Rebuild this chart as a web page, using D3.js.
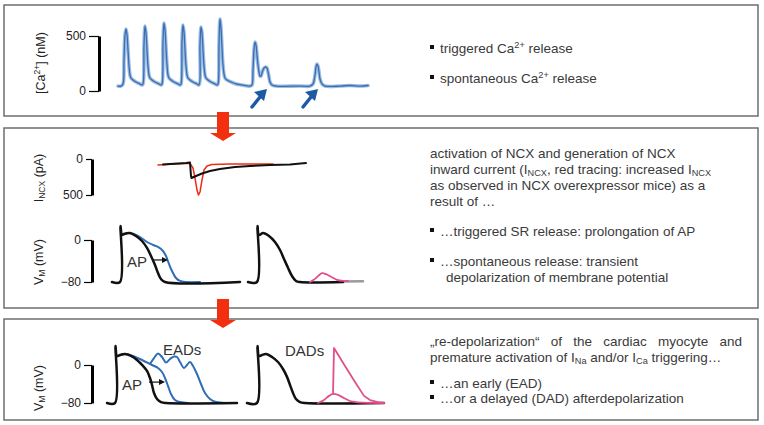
<!DOCTYPE html>
<html><head><meta charset="utf-8">
<script src="https://cdn.jsdelivr.net/npm/d3@7"></script>
<style>body{margin:0;background:#fff}svg{display:block;font-family:"Liberation Sans",Arial,sans-serif}</style>
</head><body><svg id="c" width="764" height="425"></svg>
<script>
// ---------- DATA ----------
// Panel 1: intracellular Ca2+ transient (time ms, [Ca2+] nM)
const caTime = [0,30,50,60,70,80,90,100,110,120,130,150,180,220,240,
 250,260,270,280,290,300,310,320,340,370,410,430,
 440,450,460,470,480,490,500,510,530,560,600,620,
 630,640,650,660,670,680,690,700,720,750,790,810,
 820,830,840,850,860,870,880,900,930,970,990,
 1000,1010,1020,1030,1040,1050,1060,1070,1090,1130,1180,1240,1320,
 1340,1350,1360,1370,1380,1390,1400,1410,1420,1430,1440,1450,1460,1480,1490,1500,1510,1520,1540,1580,1820,
 1920,1950,1970,1980,1990,2000,2010,2020,2040,2070,2220,2320,2420,2500];
const caConc = [45,45,64,282,509,564,509,373,227,145,118,100,82,64,55,
 64,418,591,527,373,227,145,118,100,82,64,55,
 64,445,618,555,391,236,145,118,100,82,64,55,
 64,445,600,536,373,227,145,118,100,82,64,55,
 418,582,527,373,227,145,118,100,82,64,55,
 64,418,655,573,391,236,155,118,100,82,64,55,45,
 55,191,373,445,418,327,236,173,136,136,164,191,209,218,209,173,127,82,55,45,45,
 45,64,145,218,245,227,173,109,64,45,45,50,45,50];
const caTicks = [0, 500];
const caEventTimes = [1490, 2000];   // triggered / spontaneous release markers

// Panel 2: NCX current (time ms, inward current pA)
const ncxTimeBlack = [10,24,40,56,64,66,67,76,88,104,124,154,184,224,264,296];
const ncxBlack     = [76,69,62,56,49,236,264,236,201,167,139,111,97,83,76,56];
const ncxTimeRed   = [0,14,34,54,64,70,74,78,81,84,88,92,98,108,144,194,230];
const ncxRed       = [83,76,69,62,62,125,264,431,500,458,292,153,97,76,69,69,69];
const ncxTicks = [0, 500];

// Panel 2: membrane potential (time ms, mV)
const ap2Time    = [0,16,17,20,24,36,48,60,70,78,86,92,98,106,256];
const ap2Control = [-80,-80,26.7,9.5,11.4,13.3,7.6,-1.9,-15.2,-30.5,-47.6,-62.9,-74.3,-80,-80];
const ap2ProlTime = [22,32,44,56,70,82,92,102,108,114,120,128,136,148,176];
const ap2Prol     = [10.5,13.3,11.4,5.7,-3.8,-9.5,-13.3,-21,-30.5,-45.7,-59,-72.4,-78,-80,-80];
const ap2bTime = [0,18,19,22,30,42,54,64,72,80,88,96,104,190];
const ap2b     = [-80,-80,26.7,9.5,13.3,7.6,-3.8,-19,-36,-53,-68.6,-78,-80,-80];
const ap2TailTime = [186,230];
const ap2Tail     = [-79,-78.5];
const dad2Time = [124,134,142,148,156,166,178,190,200];
const dad2     = [-80,-74,-67,-63,-65,-70,-76,-78,-78];
const vmTicks = [0, -80];

// Panel 3: membrane potential (time ms, mV)
const ap3Time    = [0,16,17,20,26,36,48,60,72,80,86,90,94,100,108,118,260];
const ap3Control = [-80,-80,40,19,21,23,19,10.5,-2,-12.6,-27.4,-42,-59,-71.6,-78,-80,-80];
const ap3ProlTime = [26,36,52,70,90,102,110,116,122,128,136,146,162];
const ap3Prol     = [21,23,19,10.5,0,-6.3,-14.7,-27.4,-44,-61,-73.7,-78,-80];
const eadTime = [86,94,102,110,118,126,134,140,146,154,160,166,172,180,188,196,206,218,238];
const ead     = [2.1,14.7,24.2,16.8,5.3,12.6,17.9,16.8,6.3,-6.3,0,6.3,-2.1,-19,-40,-59,-71.6,-78,-80];
const ap3bTime = [0,20,21,24,30,38,50,62,72,80,86,92,98,106,116,274];
const ap3b     = [-80,-80,40,19,21,23,16.8,6.3,-8.4,-25,-42,-59,-71.6,-78,-80,-80];
const dadSubTime = [142,154,164,172,182,194,206,218,274];
const dadSub     = [-80,-73.7,-65,-61,-63,-69.5,-75.8,-78,-80];
const dadTrigTime = [172,174,196,216,234,246,262,274];
const dadTrig     = [-61,35.8,-2.1,-35.8,-65,-73.7,-78,-80];

// ---------- DRAWING ----------
const svg = d3.select("#c");
const FONT = '"Liberation Sans", Arial, sans-serif';
const TXT = "#3a3a3a";
const PSIZE = 13.5;

// panel frames
[[4,5,754,111],[4,128,754,180],[4,319,754,101]].forEach(([x,y,w,h])=>{
  svg.append("rect").attr("x",x).attr("y",y).attr("width",w).attr("height",h)
    .attr("fill","#fff").attr("stroke","#6e6e6e").attr("stroke-width",1.5);
});

// red flow arrows
[[112,133,141],[299,320,328]].forEach(([y0,y1,y2])=>{
  const cx = 223;
  svg.append("polygon").attr("fill","#f2300f")
    .attr("points",[[cx-6,y0],[cx+6,y0],[cx+6,y1],[cx+13,y1],[cx,y2],[cx-13,y1],[cx-6,y1]].map(p=>p.join(",")).join(" "));
});

function yAxis(scale, x, ticks, tsize){
  const g = svg.append("g").attr("transform",`translate(${x},0)`)
    .call(d3.axisLeft(scale).tickValues(ticks).tickSize(tsize).tickSizeOuter(0).tickPadding(3));
  g.select(".domain").attr("stroke","#000").attr("stroke-width",3);
  g.selectAll(".tick line").attr("stroke","#000").attr("stroke-width",1.2);
  g.selectAll(".tick text").attr("font-size",12).attr("font-family",FONT).attr("fill","#222");
  return g;
}
function rotLabel(x, y, parts){
  const t = svg.append("text").attr("transform",`translate(${x},${y}) rotate(-90)`)
    .attr("text-anchor","middle").attr("font-size",12.5).attr("font-family",FONT).attr("fill","#222");
  addParts(t, parts, 12.5);
}
function addParts(t, parts, size){
  let pending = 0;
  parts.forEach(p=>{
    if (typeof p === "string"){
      const s = t.append("tspan").text(p);
      if (pending) { s.attr("dy", pending); pending = 0; }
    } else if (p.sub !== undefined){
      t.append("tspan").attr("dy", 2 + pending).attr("font-size", size*0.68).text(p.sub);
      pending = -2;
    } else {
      t.append("tspan").attr("dy", -5 + pending).attr("font-size", size*0.68).text(p.sup);
      pending = 5;
    }
  });
}
function para(x, y, parts, justifyTo){
  const t = svg.append("text").attr("x",x).attr("y",y).attr("font-size",PSIZE)
    .attr("font-family",FONT).attr("fill",TXT);
  addParts(t, parts, PSIZE);
  if (justifyTo){
    const len = t.node().getComputedTextLength();
    const str = parts.filter(p=>typeof p==="string").join("");
    const n = (str.match(/ /g)||[]).length;
    if (n) t.style("word-spacing", ((justifyTo - x - len)/n) + "px");
  }
  return t;
}
function bullet(x, y, parts){
  svg.append("rect").attr("x",x-2).attr("y",y-8).attr("width",4).attr("height",4).attr("fill","#111");
  para(x+8, y, parts);
}
function trace(xs, ys, xScale, yScale, color, width, curve){
  const line = d3.line().x(d=>xScale(d[0])).y(d=>yScale(d[1])).curve(curve || d3.curveCatmullRom.alpha(0.5));
  return svg.append("path").datum(d3.zip(xs, ys)).attr("d", line).attr("fill","none")
    .attr("stroke",color).attr("stroke-width",width).attr("stroke-linejoin","round").attr("stroke-linecap","round");
}

// ----- Panel 1 -----
const xCa = d3.scaleLinear().domain([0,2500]).range([118,368]);
const yCa = d3.scaleLinear().domain([0,500]).range([91,36]);
yAxis(yCa, 99, caTicks, 10);
rotLabel(45, 63, ["[Ca", {sup:"2+"}, "] (nM)"]);
trace(caTime, caConc, xCa, yCa, "#9cbde2", 3.6);
trace(caTime, caConc, xCa, yCa, "#3b6db3", 1.3);
caEventTimes.forEach(t=>{
  const tx = xCa(t), ty = yCa(0) - 2;
  svg.append("line").attr("x1",tx-7).attr("y1",ty+8).attr("x2",tx-15).attr("y2",ty+18)
    .attr("stroke","#1d5aa5").attr("stroke-width",3.5).attr("stroke-linecap","round");
  svg.append("polygon").attr("fill","#1d5aa5")
    .attr("points",[[tx,ty],[tx-13,ty+3],[tx-3,ty+12]].map(p=>p.join(",")).join(" "));
});
bullet(432, 53, ["triggered Ca", {sup:"2+"}, " release"]);
bullet(432, 83, ["spontaneous Ca", {sup:"2+"}, " release"]);

// ----- Panel 2 -----
const xNcx = d3.scaleLinear().domain([0,300]).range([158,308]);
const yNcx = d3.scaleLinear().domain([0,500]).range([159,195]);
yAxis(yNcx, 92, ncxTicks, 6);
rotLabel(43, 178, ["I", {sub:"NCX"}, " (pA)"]);
trace(ncxTimeRed, ncxRed, xNcx, yNcx, "#ee2a14", 1.5, d3.curveLinear);
trace(ncxTimeBlack, ncxBlack, xNcx, yNcx, "#111", 2, d3.curveLinear);

const yV2 = d3.scaleLinear().domain([-80,0]).range([282,240]);
const xAp2L = d3.scaleLinear().domain([0,256]).range([112,240]);
const xAp2R = d3.scaleLinear().domain([0,230]).range([248,363]);
yAxis(yV2, 92, vmTicks, 8);
rotLabel(43, 262, ["V", {sub:"M"}, " (mV)"]);
trace(ap2ProlTime, ap2Prol, xAp2L, yV2, "#2f6db5", 2);
trace(ap2Time, ap2Control, xAp2L, yV2, "#111", 2.5);
trace(ap2TailTime, ap2Tail, xAp2R, yV2, "#9a9a9a", 2.5, d3.curveLinear);
trace(ap2bTime, ap2b, xAp2R, yV2, "#111", 2.5);
trace(dad2Time, dad2, xAp2R, yV2, "#e2508c", 1.8);
function apArrow(x1, x2, y){
  svg.append("line").attr("x1",x1).attr("y1",y).attr("x2",x2-4).attr("y2",y).attr("stroke","#111").attr("stroke-width",1.2);
  svg.append("polygon").attr("fill","#111").attr("points",`${x2},${y} ${x2-6},${y-3} ${x2-6},${y+3}`);
}
svg.append("text").attr("x",xAp2L(30)).attr("y",yV2(-51)).attr("font-size",15).attr("font-family",FONT).attr("fill","#333").text("AP");
apArrow(xAp2L(82), xAp2L(112), yV2(-38));

para(430, 158, ["activation of NCX and generation of NCX"]);
para(430, 174, ["inward current (I", {sub:"NCX"}, ", red tracing: increased I", {sub:"NCX"}]);
para(430, 190, ["as observed in NCX overexpressor mice) as a"]);
para(430, 206, ["result of \u2026"]);
bullet(432, 236, ["\u2026triggered SR release: prolongation of AP"]);
bullet(432, 266, ["\u2026spontaneous release: transient"]);
para(446, 282, ["depolarization of membrane potential"]);

// ----- Panel 3 -----
const yV3 = d3.scaleLinear().domain([-80,0]).range([403,365]);
const xAp3L = d3.scaleLinear().domain([0,260]).range([107,237]);
const xAp3R = d3.scaleLinear().domain([0,274]).range([247,384]);
yAxis(yV3, 92, vmTicks, 8);
rotLabel(43, 388, ["V", {sub:"M"}, " (mV)"]);
trace(eadTime, ead, xAp3L, yV3, "#2f6db5", 2);
trace(ap3ProlTime, ap3Prol, xAp3L, yV3, "#2f6db5", 2);
trace(ap3Time, ap3Control, xAp3L, yV3, "#111", 2.5);
trace(ap3bTime, ap3b, xAp3R, yV3, "#111", 2.5);
trace(dadSubTime, dadSub, xAp3R, yV3, "#e2508c", 1.8);
trace(dadTrigTime, dadTrig, xAp3R, yV3, "#e2508c", 1.8, d3.curveLinear);
svg.append("text").attr("x",xAp3L(112)).attr("y",yV3(22)).attr("font-size",15).attr("font-family",FONT).attr("fill","#333").text("EADs");
svg.append("text").attr("x",xAp3R(76)).attr("y",yV3(20)).attr("font-size",15).attr("font-family",FONT).attr("fill","#333").text("DADs");
svg.append("text").attr("x",xAp3L(30)).attr("y",yV3(-52)).attr("font-size",15).attr("font-family",FONT).attr("fill","#333").text("AP");
apArrow(xAp3L(84), xAp3L(116), yV3(-36));

para(430, 346, ["\u201Ere-depolarization\u201C of the cardiac myocyte and"], 742);
para(430, 362, ["premature activation of I", {sub:"Na"}, " and/or I", {sub:"Ca"}, " triggering\u2026"]);
bullet(432, 388, ["\u2026an early (EAD)"]);
bullet(432, 403, ["\u2026or a delayed (DAD) afterdepolarization"]);
</script></body></html>
